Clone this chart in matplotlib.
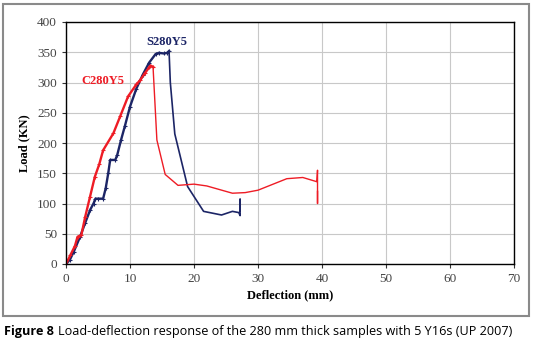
import matplotlib.pyplot as plt
from matplotlib.patches import Rectangle

# S280Y5 (blue) - deflection (mm), load (kN)
s_defl = [0, 0.6, 1.2, 2.2, 3.0, 3.8, 4.3, 4.6, 5.0, 5.8, 6.2, 6.6, 6.9, 7.7, 8.0,
          8.6, 9.2, 10.0, 11.0, 12.0, 13.0, 14.0, 14.5, 15.3, 15.8, 16.1,
          16.3, 17.0, 19.0, 21.5, 24.3, 26.0, 27.0, 27.2, 27.2, 27.2]
s_load = [0, 7, 20, 45, 68, 90, 100, 108, 108, 108, 125, 150, 172, 172, 180,
          205, 228, 260, 290, 313, 333, 347, 349, 348, 349, 352,
          300, 215, 128, 87, 81, 87, 85, 80, 107, 88]

# C280Y5 (red)
c_defl = [0, 0.7, 1.4, 1.8, 2.4, 3.0, 3.75, 4.5, 5.2, 5.8, 7.4, 8.5, 9.7, 11.0, 11.6,
          12.3, 13.0, 13.2, 13.6,
          14.2, 15.5, 17.5, 20.0, 22.0, 26.0, 28.0, 30.0, 34.5, 37.0, 39.2, 39.3, 39.3, 39.3]
c_load = [0, 15, 30, 45, 48, 78, 111, 144, 165, 188, 216, 245, 277, 297, 304,
          315, 325, 328, 326,
          205, 148, 130, 132, 129, 117, 118, 122, 141, 143, 136, 155, 100, 120]

s_peak = 26
c_peak = 19

blue = '#1c2566'
red = '#ee1c25'

fig = plt.figure(figsize=(5.35, 3.4), dpi=100)
ax = fig.add_axes([66 / 535, 1 - 264 / 340, 448 / 535, 242 / 340])

ax.plot(s_defl[:s_peak], s_load[:s_peak], color=blue, lw=1.7, marker='+', ms=2.5, mew=0.8)
ax.plot(s_defl[s_peak - 1:], s_load[s_peak - 1:], color=blue, lw=1.2)
ax.plot(c_defl[:c_peak], c_load[:c_peak], color=red, lw=1.7, marker='+', ms=3, mew=0.8)
ax.plot(c_defl[c_peak - 1:], c_load[c_peak - 1:], color=red, lw=1.0)

ax.text(15.8, 357, 'S280Y5', color=blue, fontsize=9, fontweight='bold',
        family='Liberation Serif', ha='center', va='bottom')
ax.text(5.7, 293, 'C280Y5', color=red, fontsize=9, fontweight='bold',
        family='Liberation Serif', ha='center', va='bottom')

ax.set_xlim(0, 70)
ax.set_ylim(0, 400)
ax.set_xticks(range(0, 71, 10))
ax.set_yticks(range(0, 401, 50))
ax.grid(True, color='#c8c8c8', lw=0.8)
ax.set_axisbelow(True)
for sp in ax.spines.values():
    sp.set_linewidth(1.0)
ax.tick_params(labelsize=9.5, length=3, width=0.8, colors='#333333', labelcolor='#444444')
for lab in ax.get_xticklabels() + ax.get_yticklabels():
    lab.set_family('Liberation Serif')
ax.set_xlabel('Deflection (mm)', fontsize=9, fontweight='bold', family='Liberation Serif',
              labelpad=3)
ax.set_ylabel('Load (KN)', fontsize=9, fontweight='bold', family='Liberation Serif',
              labelpad=5)

# outer frame
fig.patches.append(Rectangle((3 / 535, 1 - 316 / 340), 526 / 535, 312 / 340,
                             transform=fig.transFigure, fill=False,
                             edgecolor='#8a8a8a', lw=1.5))

fig.text(4 / 535, 1 - 331 / 340, 'Figure 8', fontsize=9.1, fontweight='bold',
         family='Open Sans', va='center')
fig.text(58 / 535, 1 - 331 / 340, 'Load-deflection response of the 280 mm thick samples with 5 Y16s (UP 2007)',
         fontsize=9.1, family='Open Sans', va='center')

fig.savefig('out.png', dpi=100)
